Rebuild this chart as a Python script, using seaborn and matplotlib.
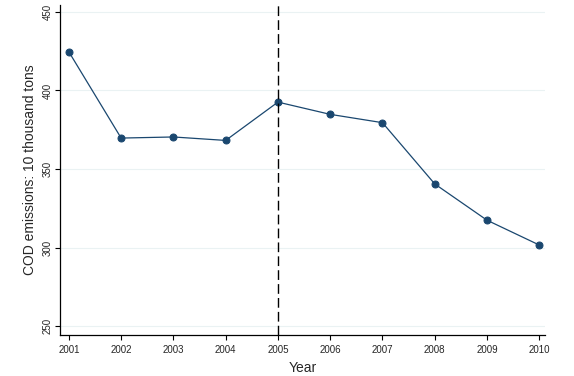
import matplotlib
matplotlib.use('Agg')
import matplotlib.pyplot as plt
import seaborn as sns
import pandas as pd

# Data
years = [2001, 2002, 2003, 2004, 2005, 2006, 2007, 2008, 2009, 2010]
cod = [424.6, 369.7, 370.4, 368.2, 392.6, 384.8, 379.5, 340.5, 317.4, 301.6]
yticks = [250, 300, 350, 400, 450]

df = pd.DataFrame({'Year': years, 'COD': cod})

sns.set_style("white")
plt.rcParams['font.family'] = ['Liberation Sans', 'DejaVu Sans']

fig = plt.figure(figsize=(5.74, 3.76), dpi=100)
ax = fig.add_axes([0.1045, 0.109, 0.845, 0.878])

navy = '#1a476f'
sns.lineplot(data=df, x='Year', y='COD', ax=ax, color=navy, linewidth=0.9,
             marker='o', markersize=5, markeredgecolor=navy)

# policy year marker
ax.axvline(2005, color='black', linestyle=(0, (7, 3)), linewidth=1)

ax.set_xlim(2000.83, 2010.11)
ax.set_ylim(244.3, 454.5)
ax.set_xticks(years)
ax.set_yticks(yticks)
ax.set_yticklabels([str(t) for t in yticks], rotation=90, va='center')
ax.tick_params(axis='both', labelsize=7, length=3.7, width=0.8, color='black',
               direction='out', left=True, bottom=True)
ax.tick_params(axis='y', pad=1.5)
ax.grid(axis='y', color='#eaf2f3', linewidth=0.8)
ax.set_axisbelow(True)

for side in ['top', 'right']:
    ax.spines[side].set_visible(False)
for side in ['left', 'bottom']:
    ax.spines[side].set_color('black')
    ax.spines[side].set_linewidth(0.9)

ax.set_xlabel('Year', fontsize=10)
ax.set_ylabel('COD emissions: 10 thousand tons', fontsize=10, labelpad=4)

fig.savefig('out.png', dpi=100)
